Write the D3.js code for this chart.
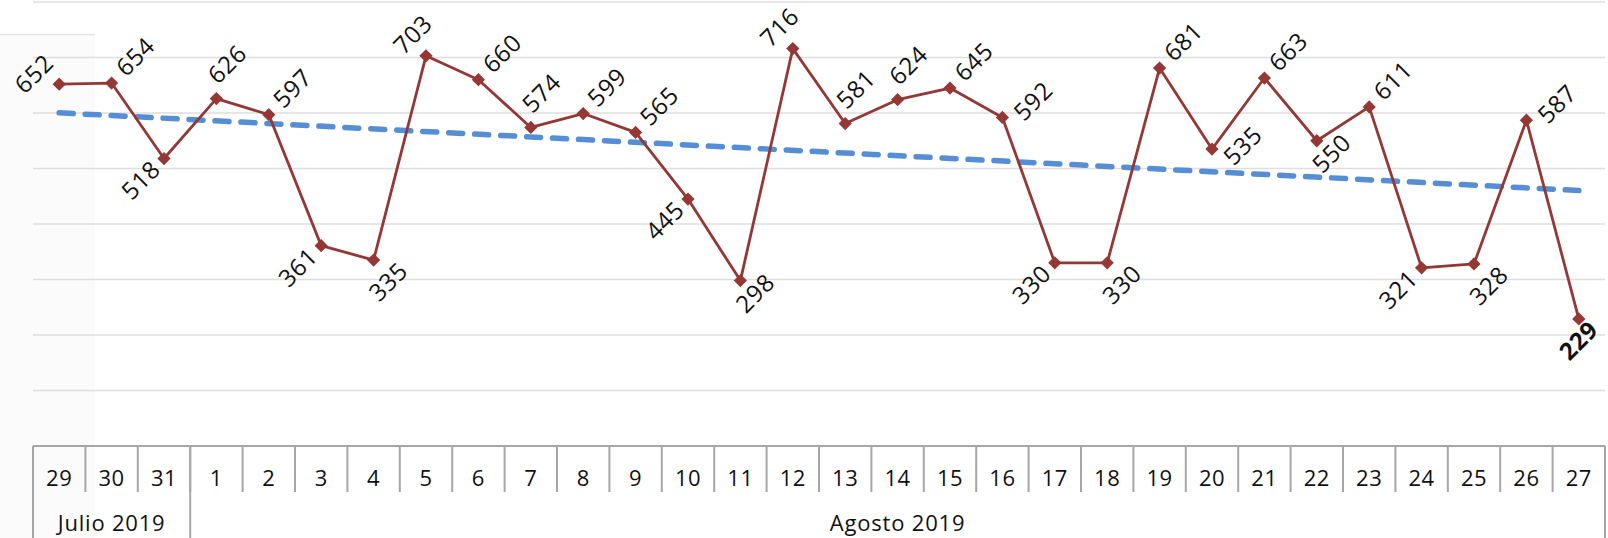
<!DOCTYPE html>
<html>
<head>
<meta charset="utf-8">
<script src="https://cdn.jsdelivr.net/npm/d3@7"></script>
<style>
  html, body { margin: 0; padding: 0; background: #ffffff; }
  svg { display: block; }
  text { font-family: "Open Sans", "Noto Sans", sans-serif; fill: #111; }
</style>
</head>
<body>
<svg id="chart" width="1608" height="538"></svg>
<script>
// ---- data ----
const days = ["29","30","31","1","2","3","4","5","6","7","8","9","10","11","12","13","14","15","16","17","18","19","20","21","22","23","24","25","26","27"];
const months = ["Julio 2019", "Agosto 2019"];
const monthCounts = [3, 27];
const values = [652,654,518,626,597,361,335,703,660,574,599,565,445,298,716,581,624,645,592,330,330,681,535,663,550,611,321,328,587,229];
const gridTicks = [100,200,300,400,500,600,700,800];
// label placement keywords (style only)
const labelPlace = ["L","AR","BL","A","AR","BL","B","AL","AR","A","AR","AR","BL","BR","AL","A","A","AR","R","BL","B","AR","RR","AR","BR","AR","BL","B","R","BE"];

(function () {
// ---- layout ----
const W = 1608, H = 538;
const plotL = 33, plotR = 1605, plotT = 2, base = 446;
const svg = d3.select("#chart");

const x = d3.scaleBand().domain(d3.range(days.length)).range([plotL, plotR]).padding(0);
const y = d3.scaleLinear().domain([0, 800]).range([base, plotT]);
const cx = i => x(i) + x.bandwidth() / 2;

// faint left panel
svg.append("rect").attr("x", 0).attr("y", 34).attr("width", 95).attr("height", H - 34).attr("fill", "#fbfbfb");
svg.append("line").attr("x1", 0).attr("x2", 95).attr("y1", 34.5).attr("y2", 34.5).attr("stroke", "#e6e6e6").attr("stroke-width", 1.5);

// gridlines
svg.append("g").selectAll("line").data(gridTicks).join("line")
  .attr("x1", plotL).attr("x2", plotR)
  .attr("y1", d => y(d)).attr("y2", d => y(d))
  .attr("stroke", "#dedede").attr("stroke-width", 1.5);

// trendline (least squares)
const n = values.length;
const xs = d3.range(n);
const mx = d3.mean(xs), my = d3.mean(values);
const slope = d3.sum(xs, i => (i - mx) * (values[i] - my)) / d3.sum(xs, i => (i - mx) * (i - mx));
const icpt = my - slope * mx;
svg.append("line")
  .attr("x1", cx(0)).attr("y1", y(icpt))
  .attr("x2", cx(n - 1)).attr("y2", y(icpt + slope * (n - 1)))
  .attr("stroke", "#558ed5").attr("stroke-width", 5.5)
  .attr("stroke-dasharray", "14,12").attr("stroke-linecap", "round");

// line
const lineGen = d3.line().x((d, i) => cx(i)).y(d => y(d));
svg.append("path").datum(values).attr("d", lineGen)
  .attr("fill", "none").attr("stroke", "#953735").attr("stroke-width", 2.8).attr("stroke-linejoin", "round");

// markers (square rotated 45°)
const sym = d3.symbol().type(d3.symbolSquare).size(88);
svg.append("g").selectAll("path").data(values).join("path")
  .attr("d", sym)
  .attr("transform", (d, i) => `translate(${cx(i)},${y(d)}) rotate(45)`)
  .attr("fill", "#953735");

// data labels
const off = {
  L: [-26, -11], AR: [23, -27], BL: [-24, 21], A: [10, -35], B: [14, 21],
  AL: [-14, -22], BR: [14, 12], R: [30, -17], RR: [30, -4], BE: [-1, 21]
};
svg.append("g").selectAll("text").data(values).join("text")
  .attr("text-anchor", "middle").attr("dominant-baseline", "central")
  .attr("font-size", 24).attr("letter-spacing", 0.5)
  .attr("font-weight", (d, i) => i === n - 1 ? 700 : 400)
  .attr("transform", (d, i) => {
    const o = off[labelPlace[i]];
    return `translate(${cx(i) + o[0]},${y(d) + o[1]}) rotate(-45)`;
  })
  .text(d => d);

// category table
const tbl = svg.append("g").attr("stroke", "#a6a6a6").attr("stroke-width", 2);
tbl.append("line").attr("x1", plotL).attr("x2", plotR).attr("y1", base).attr("y2", base);
tbl.selectAll("line.day").data(d3.range(1, n)).join("line").attr("class", "day")
  .attr("x1", i => x(i)).attr("x2", i => x(i)).attr("y1", base).attr("y2", 492);
const bounds = [0];
monthCounts.forEach((c, k) => bounds.push(bounds[k] + c));
tbl.selectAll("line.mon").data(bounds).join("line").attr("class", "mon")
  .attr("x1", b => b < n ? x(b) : plotR).attr("x2", b => b < n ? x(b) : plotR)
  .attr("y1", base).attr("y2", H);

svg.append("g").selectAll("text").data(days).join("text")
  .attr("x", (d, i) => cx(i)).attr("y", 477)
  .attr("text-anchor", "middle").attr("dominant-baseline", "central")
  .attr("font-size", 22).attr("letter-spacing", 0.5).text(d => d);

svg.append("g").selectAll("text").data(months).join("text")
  .attr("x", (d, k) => {
    const a = x(bounds[k]);
    const b = bounds[k + 1] < n ? x(bounds[k + 1]) : plotR;
    return (a + b) / 2;
  })
  .attr("y", 522)
  .attr("text-anchor", "middle").attr("dominant-baseline", "central")
  .attr("font-size", 22).attr("letter-spacing", 0.8).text(d => d);
})();
</script>
</body>
</html>
